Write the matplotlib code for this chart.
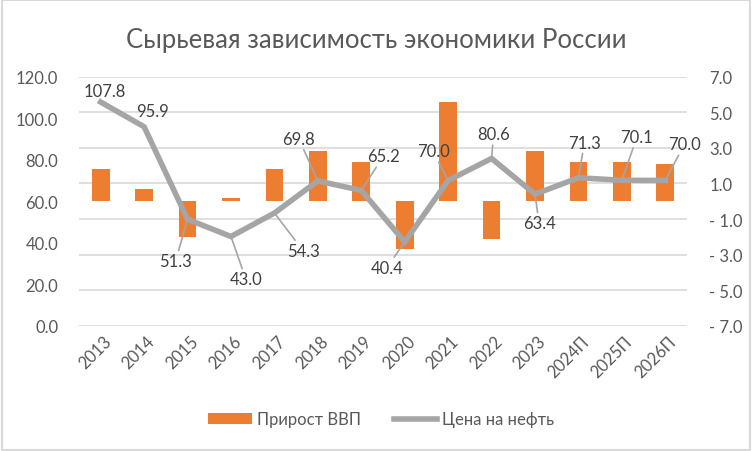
import matplotlib
matplotlib.use("Agg")
import matplotlib.pyplot as plt
from matplotlib.ticker import FuncFormatter
from matplotlib.patches import Rectangle, Patch
from matplotlib.lines import Line2D
from matplotlib.transforms import ScaledTranslation

plt.rcParams['font.family'] = ['Lato', 'DejaVu Sans']

years = ["2013", "2014", "2015", "2016", "2017", "2018", "2019", "2020",
         "2021", "2022", "2023", "2024П", "2025П", "2026П"]
gdp_growth = [1.8, 0.7, -2.0, 0.2, 1.8, 2.8, 2.2, -2.7, 5.6, -2.1, 2.8, 2.2, 2.2, 2.1]
oil_price = [107.8, 95.9, 51.3, 43.0, 54.3, 69.8, 65.2, 40.4, 70.0, 80.6, 63.4, 71.3, 70.1, 70.0]

# label offsets in pixels (dx, dy) and whether a leader line is drawn
label_offsets = [(4, 11), (8, 16), (-12, -42), (15, -43), (29, -38), (-19, 42), (22, 34),
                 (-18, -26), (-15, 29), (2, 24), (4, -29), (6, 35), (15, 43), (19, 36)]
leaders = [False, False, True, True, True, True, True, True, True, True, True, True, True, True]

ORANGE = "#ED7D31"
GRAY = "#A5A5A5"
TXT = "#595959"
GRID = "#D9D9D9"

fig = plt.figure(figsize=(7.52, 4.52), dpi=100)
ax = fig.add_axes([0.105, 0.2772, 0.8086, 0.5508])
ax2 = ax.twinx()
ax2.set_position(ax.get_position())

x = list(range(len(years)))

# bars on secondary (right) axis
ax2.bar(x, gdp_growth, width=0.41, color=ORANGE, zorder=2)
ax2.set_ylim(-7, 7)
ax2.set_yticks([-7, -5, -3, -1, 1, 3, 5, 7])
ax2.yaxis.set_major_formatter(FuncFormatter(lambda v, p: ("- %.1f" % abs(v)) if v < 0 else "%.1f" % v))
ax2.grid(axis='y', color=GRID, linewidth=1.2, zorder=0)
ax2.set_axisbelow(True)

# line on primary (left) axis, drawn on top
ax.set_zorder(ax2.get_zorder() + 1)
ax.patch.set_visible(False)
ax.plot(x, oil_price, color=GRAY, linewidth=4, solid_joinstyle='miter', zorder=3)
ax.set_ylim(0, 120)
ax.set_yticks([0, 20, 40, 60, 80, 100, 120])
ax.yaxis.set_major_formatter(FuncFormatter(lambda v, p: "%.1f" % v))
ax.set_xlim(-0.5, len(years) - 0.5)
ax.set_xticks(x)
ax.set_xticklabels(years, rotation=45, ha='right', rotation_mode='anchor', va='center')

for a in (ax, ax2):
    for s in a.spines.values():
        s.set_visible(False)
    a.tick_params(length=0, labelsize=12, labelcolor=TXT)
ax.tick_params(axis='y', pad=15)
ax2.tick_params(axis='y', pad=16)
ax.tick_params(axis='x', pad=9)
shift = ScaledTranslation(0.08, 0, fig.dpi_scale_trans)
for lab in ax.get_xticklabels():
    lab.set_transform(lab.get_transform() + shift)

for i, (v, (dx, dy), ld) in enumerate(zip(oil_price, label_offsets, leaders)):
    kw = {}
    if ld:
        kw['arrowprops'] = dict(arrowstyle='-', color=GRAY, lw=1.2, shrinkA=0, shrinkB=0)
    ax.annotate("%.1f" % v, xy=(i, v), xytext=(dx, dy), textcoords='offset pixels',
                ha='center', va='center', fontsize=12, color="#404040", zorder=5, **kw)

fig.text(0.5, 0.911, "Сырьевая зависимость экономики России", ha='center', va='center',
         fontsize=18.5, color=TXT)

handles = [Patch(facecolor=ORANGE, edgecolor='none'),
           Line2D([0], [0], color=GRAY, linewidth=4)]
fig.legend(handles, ["Прирост ВВП", "Цена на нефть"], loc='center', bbox_to_anchor=(0.507, 0.07),
           ncol=2, frameon=False, fontsize=12, labelcolor=TXT, handlelength=2.6,
           handletextpad=0.3, columnspacing=2.0)

fig.patches.append(Rectangle((0.002, 0.003), 0.995, 0.994, transform=fig.transFigure,
                             fill=False, edgecolor=GRID, linewidth=1.5))

fig.savefig("out.png", dpi=100)
